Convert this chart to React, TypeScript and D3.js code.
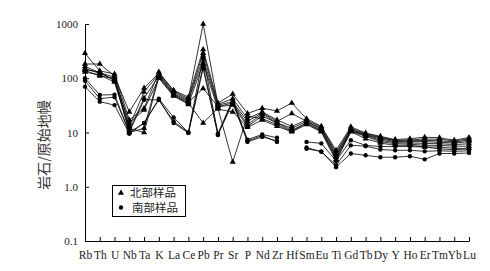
import { useEffect, useRef } from "react";
import * as d3 from "d3";

// element order on the x axis
const elements = [
  "Rb", "Th", "U", "Nb", "Ta", "K", "La", "Ce", "Pb", "Pr", "Sr", "P", "Nd", "Zr",
  "Hf", "Sm", "Eu", "Ti", "Gd", "Tb", "Dy", "Y", "Ho", "Er", "Tm", "Yb", "Lu",
];

const yTicks = [0.1, 1, 10, 100, 1000];
const yTickLabels = ["0.1", "1.0", "10", "100", "1000"];

// northern samples (triangles)
const north1 = [288, 137, 120, 17, 28, 130, 58, 42, 1000, 33, 42, 18, 24, 17, 13, 17, 12.5, 4.3, 12, 9.5, 8.2, 7.2, 7.3, 7.6, 7.5, 7, 7.6];
const north2 = [183, 183, 110, 24, 66, 125, 60, 45, 340, 35, 51, 22.5, 28, 25, 35, 18, 13, 4.7, 12.7, 9.8, 8.5, 7.4, 7.7, 8.2, 8, 7.2, 8.1];
const north3 = [165, 126, 105, 13, 56, 120, 55, 40, 290, 32, 37, 16, 23, 16, 22.5, 16, 12, 4, 11.5, 9.2, 8, 7, 7, 7.2, 7, 6.7, 7.2];
const north4 = [150, 123, 95, 10, 12, 115, 52, 38, 230, 30, 35, 14, 22, 15, 12, 16, 11.5, 3.7, 11, 9, 7.6, 6.8, 6.8, 6.8, 6.6, 6.4, 6.8];
const north5 = [145, 130, 90, 11, 43, 110, 50, 36, 65, 30, 32, 13, 20, 15, 11, 15, 11, 3.5, 10.8, 8.8, 7.2, 6.5, 6.4, 6.3, 6.2, 6, 6.2];
const north6 = [130, 115, 85, 12, 10, 105, 48, 35, 15, 28, 2.86, 20, 18, 14, 10.5, 15, 10.5, 3.2, 10.5, 8.5, 6.8, 6.2, 6.1, 5.8, 5.8, 5.6, 5.6];
const north7 = [140, 110, 100, 15, 26, 100, 47, 33, 190, 27, 24, 12.5, 17, 13, 10.3, 14, 10.3, 3, 10.3, 7.7, 6.4, 5.8, 5.8, 5.4, 5.4, 5.1, 5.1];

// southern samples (circles), Hf not analysed
const south1 = [100, 49, 50, 10, 15, 42, 19, 10, 250, 9.5, 40, 7.4, 9.2, 8, null, 6.7, 6.3, 3, 7.2, 5.8, 5.5, 5.5, 5.5, 5.4, 5, 4.8, 5];
const south2 = [90, 42, 45, 10, 40, 40, 16, 10, 170, 9.3, 38, 6.7, 8.3, 7, null, 5.3, 4.4, 2.5, 5.8, 5.6, 4.85, 4.7, 4.7, 4.5, 4.6, 4.5, 4.6];
const south3 = [70, 37, 32, 9.5, 15, 40, 15, 9.8, 150, 9, 35, 7, 8.8, 6.7, null, 5, 4.5, 2.3, 4.1, 3.8, 3.5, 3.5, 3.65, 3.2, 4.1, 4.1, 4.2];

const northSeries = [north1, north2, north3, north4, north5, north6, north7];
const southSeries = [south1, south2, south3];

const legendLabels = ["北部样品", "南部样品"];

const serif = "'Liberation Serif', 'Times New Roman', serif";
const cjk = "'Noto Sans CJK SC', sans-serif";

export default function App() {
  const svgRef = useRef<SVGSVGElement>(null);

  useEffect(() => {
    const svg = d3.select(svgRef.current);
    svg.selectAll("*").remove();

    const left = 85;
    const right = 469;
    const top = 24;
    const bottom = 241;

    const x = d3.scalePoint<string>().domain(elements).range([left, right]);
    const y = d3.scaleLog().domain([0.1, 1000]).range([bottom, top]);

    const line = d3
      .line<number | null>()
      .defined((d) => d != null)
      .x((d, i) => x(elements[i])!)
      .y((d) => y(d as number));

    const triangle = d3.symbol().type(d3.symbolTriangle).size(16);
    const circle = d3.symbol().type(d3.symbolCircle).size(15);

    const drawGroup = (series: (number | null)[][], sym: any) => {
      series.forEach((s) => {
        svg
          .append("path")
          .attr("d", line(s))
          .attr("fill", "none")
          .attr("stroke", "#000")
          .attr("stroke-width", 0.8);
        svg
          .append("g")
          .selectAll("path")
          .data(s.map((v, i) => ({ v, i })).filter((d) => d.v != null))
          .join("path")
          .attr("d", sym)
          .attr("transform", (d) => `translate(${x(elements[d.i])},${y(d.v as number)})`)
          .attr("fill", "#000");
      });
    };

    drawGroup(northSeries, triangle);
    drawGroup(southSeries, circle);

    // axes
    const yAxis = d3
      .axisLeft(y)
      .tickValues(yTicks)
      .tickFormat((d, i) => yTickLabels[i])
      .tickSizeInner(-4)
      .tickSizeOuter(0)
      .tickPadding(7);
    const gy = svg.append("g").attr("transform", `translate(${left},0)`).call(yAxis);
    gy.selectAll("text").attr("font-family", serif).attr("font-size", 11).attr("fill", "#222");
    gy.selectAll("line,path").attr("stroke", "#000");

    const xAxis = d3.axisBottom(x).tickSizeInner(-4).tickSizeOuter(0).tickPadding(10);
    const gx = svg.append("g").attr("transform", `translate(0,${bottom})`).call(xAxis);
    gx.selectAll("text").attr("font-family", serif).attr("font-size", 11.5).attr("fill", "#222");
    gx.selectAll("line,path").attr("stroke", "#000");

    // y title
    svg
      .append("text")
      .attr("transform", `translate(49,145) rotate(-90)`)
      .attr("text-anchor", "middle")
      .attr("font-family", cjk)
      .attr("font-size", 14)
      .attr("fill", "#333")
      .text("岩石/原始地幔");

    // legend
    const lg = svg.append("g");
    lg.append("rect")
      .attr("x", 112.5)
      .attr("y", 185.5)
      .attr("width", 73)
      .attr("height", 31)
      .attr("fill", "#fff")
      .attr("stroke", "#000");
    lg.append("path").attr("d", triangle()).attr("transform", "translate(121,193)");
    lg.append("path").attr("d", circle()).attr("transform", "translate(121,207.5)");
    lg.append("text")
      .attr("font-family", cjk)
      .attr("font-size", 11.5)
      .attr("fill", "#222")
      .selectAll("tspan")
      .data(legendLabels)
      .join("tspan")
      .attr("x", (d, i) => (i === 0 ? 130 : 132))
      .attr("y", (d, i) => (i === 0 ? 197 : 212))
      .text((d) => d);
  }, []);

  return (
    <svg
      ref={svgRef}
      width={490}
      height={271}
      style={{ position: "absolute", left: 0, top: 0, background: "#fff" }}
    />
  );
}
